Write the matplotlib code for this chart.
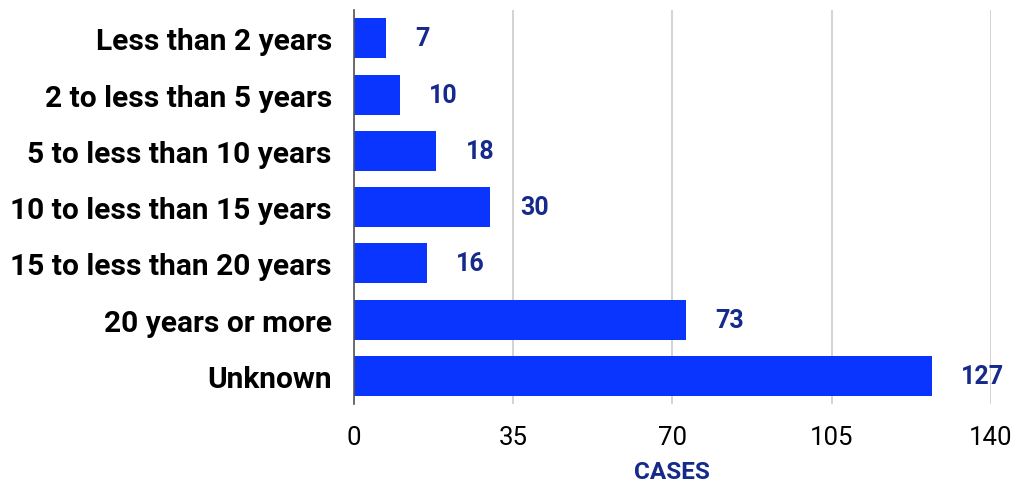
import matplotlib

matplotlib.use("Agg")
import matplotlib.pyplot as plt

categories = [
    "Less than 2 years",
    "2 to less than 5 years",
    "5 to less than 10 years",
    "10 to less than 15 years",
    "15 to less than 20 years",
    "20 years or more",
    "Unknown",
]
cases = [7, 10, 18, 30, 16, 73, 127]
xticks = [0, 35, 70, 105, 140]

bar_color = "#0a35ff"
label_color = "#162a8c"

plt.rcParams["font.family"] = ["Roboto", "DejaVu Sans"]

fig = plt.figure(figsize=(10.13, 4.85), dpi=100)
ax = fig.add_axes([0.3495, 0.165, 0.6285, 0.812])

ypos = list(range(len(categories)))
ax.barh(ypos, cases, height=0.71, color=bar_color, zorder=3)
for y, v in zip(ypos, cases):
    ax.text(v + 6.5, y, str(v), va="center", ha="left", fontsize=18,
            fontweight="bold", color=label_color)

ax.set_ylim(len(categories) - 0.5, -0.5)
ax.set_xlim(0, 140)
ax.set_yticks(ypos)
ax.set_yticklabels(categories, fontsize=21.5, fontweight="bold")
ax.set_xticks(xticks)
ax.set_xticklabels([str(t) for t in xticks], fontsize=18.5)
ax.tick_params(axis="y", length=0, pad=16)
ax.tick_params(axis="x", length=0, pad=15)
ax.grid(axis="x", color="#cccccc", linewidth=1.2, zorder=0)
for s in ["top", "right", "bottom"]:
    ax.spines[s].set_visible(False)
ax.spines["left"].set_color("#555555")
ax.spines["left"].set_linewidth(1.2)
ax.spines["left"].set_zorder(4)
ax.set_xlabel("CASES", fontsize=17.5, fontweight="bold", color=label_color, labelpad=8)

fig.savefig("out.png", dpi=100)
